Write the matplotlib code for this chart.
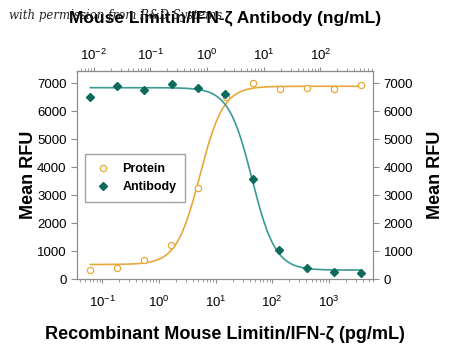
import numpy as np
import matplotlib
matplotlib.use('Agg')
import matplotlib.pyplot as plt
from matplotlib.ticker import LogLocator, NullFormatter

# protein dose (pg/mL) and response
protein_pg = [0.062, 0.185, 0.556, 1.67, 5, 15, 45, 135, 405, 1215, 3645]
protein_rfu = [320, 400, 690, 1210, 3260, 6500, 7000, 6800, 6850, 6800, 6950]

# antibody dose (ng/mL, top axis) and response
antibody_ng = [0.0088, 0.026, 0.079, 0.24, 0.71, 2.1, 6.4, 19, 58, 173, 520]
antibody_rfu = [6520, 6920, 6770, 6990, 6850, 6630, 3580, 1040, 390, 250, 220]

# four-parameter fits
protein_fit = dict(bottom=520, top=6900, mid=5.3, hill=2.1)
antibody_fit = dict(bottom=320, top=6850, mid=44, hill=-2.1)

pg_per_ng = 7.05
orange = '#E8A93A'
teal_line = '#3A9A96'
teal_dot = '#0E6B5C'
grey = '#8C8C8C'
font = ['Liberation Sans', 'DejaVu Sans']


def four_pl(x, bottom, top, mid, hill):
    return bottom + (top - bottom) / (1 + (mid / x) ** hill)


fig = plt.figure(figsize=(4.5, 3.51), dpi=100)
ax = fig.add_axes([0.171, 0.205, 0.658, 0.593])

xs = np.logspace(np.log10(protein_pg[0]), np.log10(protein_pg[-1]), 300)
ab_pg = np.array(antibody_ng) * pg_per_ng
ax.plot(xs, four_pl(xs, **protein_fit), color=orange, lw=1.2)
ax.plot(xs, four_pl(xs, **antibody_fit), color=teal_line, lw=1.2)

ax.plot(protein_pg, protein_rfu, 'o', ms=4.5, mfc='white', mec=orange, mew=0.9,
        label='Protein')
ax.plot(ab_pg, antibody_rfu, 'D', ms=4, color=teal_dot, label='Antibody')

ax.set_xscale('log')
ax.set_xlim(0.036, 6000)
ax.set_ylim(0, 7450)
ax.set_yticks(range(0, 8000, 1000))
ax.xaxis.set_major_locator(LogLocator(base=10, numticks=10))
ax.xaxis.set_minor_locator(LogLocator(base=10, subs=np.arange(2, 10), numticks=20))
ax.xaxis.set_minor_formatter(NullFormatter())

for s in ax.spines.values():
    s.set_color(grey)
ax.tick_params(axis='both', which='both', color=grey, labelsize=9.5)
ax.tick_params(axis='x', which='major', length=3, pad=8)
ax.tick_params(axis='x', which='minor', length=2)
ax.tick_params(axis='y', length=4)
for lab in ax.get_xticklabels() + ax.get_yticklabels():
    lab.set_family(font)

ax.set_xlabel('Recombinant Mouse Limitin/IFN-ζ (pg/mL)', fontsize=13,
              fontweight='bold', family=font, labelpad=12)
ax.set_ylabel('Mean RFU', fontsize=13, fontweight='bold', family=font, labelpad=0)

ay = ax.twinx()
ay.set_ylim(ax.get_ylim())
ay.set_yticks(range(0, 8000, 1000))
ay.tick_params(axis='y', length=4, color=grey, labelsize=9.5)
for lab in ay.get_yticklabels():
    lab.set_family(font)
for s in ay.spines.values():
    s.set_color(grey)
ay.set_ylabel('Mean RFU', fontsize=13, fontweight='bold', family=font,
              rotation=90, labelpad=10)

top = ax.secondary_xaxis('top', functions=(lambda x: x / pg_per_ng,
                                           lambda x: x * pg_per_ng))
top.set_xscale('log')
top.xaxis.set_major_locator(LogLocator(base=10, numticks=10))
top.xaxis.set_minor_locator(LogLocator(base=10, subs=np.arange(2, 10), numticks=20))
top.xaxis.set_minor_formatter(NullFormatter())
top.spines['top'].set_color(grey)
top.tick_params(axis='x', which='both', color=grey, labelsize=9.5)
top.tick_params(axis='x', which='major', length=3, pad=3)
top.tick_params(axis='x', which='minor', length=2)
for lab in top.get_xticklabels():
    lab.set_family(font)
top.set_xlabel('Mouse Limitin/IFN-ζ Antibody (ng/mL)', fontsize=12.5,
               fontweight='bold', family=font, labelpad=18)

leg = ax.legend(loc='upper left', bbox_to_anchor=(0.027, 0.60), frameon=True,
                fancybox=False, edgecolor=grey, borderpad=0.7, handletextpad=0.8,
                handlelength=1.5, borderaxespad=0, labelspacing=0.5,
                prop={'family': font, 'weight': 'bold', 'size': 9})
leg.get_frame().set_linewidth(1.0)

fig.text(0.02, 0.955, 'with permission from R&D Systems', fontsize=8.5,
         style='italic', family='DejaVu Serif', va='center', color='#222222')

fig.savefig('out.png', dpi=100)
